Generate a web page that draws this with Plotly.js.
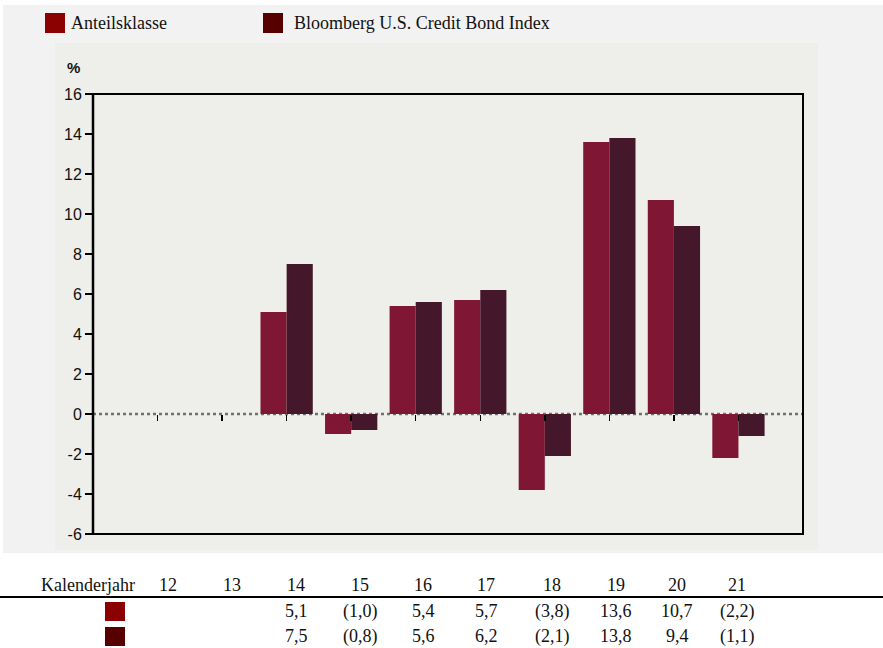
<!DOCTYPE html>
<html>
<head>
<meta charset="utf-8">
<script src="https://cdn.plot.ly/plotly-3.0.1.min.js"></script>
<style>html,body{margin:0;padding:0;background:#fff;}#chart{width:883px;height:648px;}</style>
</head>
<body>
<div id="chart"></div>
<script>
// ---- data ----
var years = ["12", "13", "14", "15", "16", "17", "18", "19", "20", "21"];
var anteilsklasse = [null, null, 5.1, -1.0, 5.4, 5.7, -3.8, 13.6, 10.7, -2.2];
var bloomberg = [null, null, 7.5, -0.8, 5.6, 6.2, -2.1, 13.8, 9.4, -1.1];
var seriesNames = ["Anteilsklasse", "Bloomberg U.S. Credit Bond Index"];
var tableHeader = "Kalenderjahr";
var yTicks = [-6, -4, -2, 0, 2, 4, 6, 8, 10, 12, 14, 16];

// ---- layout helpers (pixel -> paper) ----
var W = 883, H = 648, L = 93, R = 80, T = 94, B = 114;
var PW = W - L - R, PH = H - T - B;
function px(x) { return (x - L) / PW; }
function py(y) { return (H - B - y) / PH; }
var tableColX = [168, 232, 296, 360, 423, 486, 552, 616, 677, 737];
var rowY = [585, 611, 636];

var barColors = ["#7f1734", "#45172a"];
var swatchColors = ["#8b0000", "#560000"];
var yMin = yTicks[0], yMax = yTicks[yTicks.length - 1];

function fmt(v) {
  if (v === null || v === undefined) return "";
  var s = Math.abs(v).toFixed(1).replace(".", ",");
  return v < 0 ? "(" + s + ")" : s;
}

var traces = [
  { type: "bar", x: years, y: anteilsklasse, name: seriesNames[0],
    marker: { color: barColors[0], line: { width: 0 } }, hoverinfo: "none" },
  { type: "bar", x: years, y: bloomberg, name: seriesNames[1],
    marker: { color: barColors[1], line: { width: 0 } }, hoverinfo: "none" }
];

var serif = "Liberation Serif, Times New Roman, serif";
var sans = "Liberation Sans, Arial, sans-serif";
var serifSize = 18;

var shapes = [
  // outer light panel
  { type: "rect", xref: "paper", yref: "paper", x0: px(3), x1: px(883), y0: py(553), y1: py(5),
    fillcolor: "#f2f2f2", line: { width: 0 }, layer: "below" },
  // inner chart panel
  { type: "rect", xref: "paper", yref: "paper", x0: px(55), x1: px(818), y0: py(550), y1: py(43),
    fillcolor: "#eeeeea", line: { width: 0 }, layer: "below" },
  // zero dotted line
  { type: "line", xref: "paper", yref: "y", x0: 0, x1: 1, y0: 0, y1: 0,
    line: { color: "#707070", width: 2.5, dash: "dot" }, layer: "below" },
  // plot frame
  { type: "rect", xref: "paper", yref: "paper", x0: 0, x1: 1, y0: 0, y1: 1,
    line: { color: "#000", width: 2 }, layer: "above" },
  { type: "line", xref: "paper", yref: "paper", x0: 0, x1: 0, y0: 0, y1: 1,
    line: { color: "#000", width: 2.5 }, layer: "above" },
  // legend swatches
  { type: "rect", xref: "paper", yref: "paper", x0: px(45), x1: px(65), y0: py(33), y1: py(13),
    fillcolor: swatchColors[0], line: { width: 0 } },
  { type: "rect", xref: "paper", yref: "paper", x0: px(263), x1: px(283), y0: py(33), y1: py(13),
    fillcolor: swatchColors[1], line: { width: 0 } },
  // table rule
  { type: "line", xref: "paper", yref: "paper", x0: px(0), x1: px(883), y0: py(597), y1: py(597),
    line: { color: "#000", width: 2 } },
  // table swatches
  { type: "rect", xref: "paper", yref: "paper", x0: px(105), x1: px(125), y0: py(621), y1: py(602),
    fillcolor: swatchColors[0], line: { width: 0 } },
  { type: "rect", xref: "paper", yref: "paper", x0: px(105), x1: px(125), y0: py(646), y1: py(627),
    fillcolor: swatchColors[1], line: { width: 0 } }
];

var annotations = [
  { xref: "paper", yref: "paper", x: px(69), y: py(23), xanchor: "left", yanchor: "middle",
    text: seriesNames[0], showarrow: false, font: { family: serif, size: serifSize, color: "#111" } },
  { xref: "paper", yref: "paper", x: px(292), y: py(23), xanchor: "left", yanchor: "middle",
    text: seriesNames[1], showarrow: false, font: { family: serif, size: serifSize, color: "#111" } },
  { xref: "paper", yref: "paper", x: px(65), y: py(67), xanchor: "left", yanchor: "middle",
    text: "<b>%</b>", showarrow: false, font: { family: sans, size: 15, color: "#111" } },
  { xref: "paper", yref: "paper", x: px(137), y: py(rowY[0]), xanchor: "right", yanchor: "middle",
    text: tableHeader, showarrow: false, font: { family: serif, size: serifSize, color: "#111" } }
];
for (var i = 0; i < years.length; i++) {
  var cols = [years[i], fmt(anteilsklasse[i]), fmt(bloomberg[i])];
  for (var r = 0; r < 3; r++) {
    if (!cols[r]) continue;
    annotations.push({ xref: "paper", yref: "paper", x: px(tableColX[i]), y: py(rowY[r]),
      xanchor: "center", yanchor: "middle", text: cols[r], showarrow: false,
      font: { family: serif, size: serifSize, color: "#111" } });
  }
}

var layout = {
  width: W, height: H,
  margin: { l: L, r: R, t: T, b: B, pad: 0 },
  paper_bgcolor: "#ffffff",
  plot_bgcolor: "rgba(0,0,0,0)",
  showlegend: false,
  barmode: "group",
  bargap: 0.19,
  bargroupgap: 0,
  xaxis: {
    type: "category", categoryorder: "array", categoryarray: years,
    range: [-1, years.length],
    anchor: "free", position: (0 - yMin) / (yMax - yMin),
    showline: false, showgrid: false, zeroline: false,
    ticks: "outside", ticklen: 6, tickwidth: 1.5, tickcolor: "#000",
    showticklabels: false, fixedrange: true
  },
  yaxis: {
    range: [yMin, yMax], tickmode: "array", tickvals: yTicks,
    ticktext: yTicks.map(String),
    showline: false, showgrid: false, zeroline: false,
    ticks: "outside", ticklen: 7, tickwidth: 1.5, tickcolor: "#000",
    tickfont: { family: sans, size: 16, color: "#111" },
    fixedrange: true
  },
  shapes: shapes,
  annotations: annotations
};

Plotly.newPlot("chart", traces, layout, { displayModeBar: false, staticPlot: true });
</script>
</body>
</html>
